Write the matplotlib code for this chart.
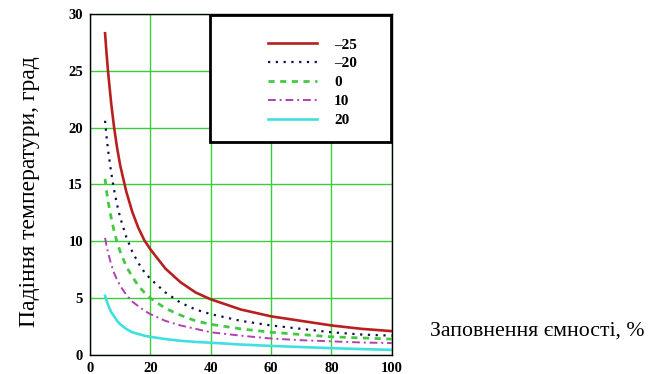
import matplotlib
matplotlib.use("Agg")
import matplotlib.pyplot as plt
from matplotlib.patches import Rectangle

# заповнення ємності, %
fill = [5, 5.5, 6, 7, 8, 9, 10, 12, 14, 16, 18, 20, 25, 30, 35, 40, 50, 60, 70, 80, 90, 100]

# падіння температури для різних температур, град
drop_m25 = [28.3, 26.5, 24.9, 22.2, 20.0, 18.2, 16.7, 14.4, 12.6, 11.2, 10.1, 9.3,
            7.6, 6.4, 5.5, 4.9, 4.0, 3.4, 3.0, 2.6, 2.3, 2.1]
drop_m20 = [20.6, 19.2, 18.0, 16.1, 14.5, 13.2, 12.1, 10.4, 9.1, 8.1, 7.3, 6.7,
            5.5, 4.6, 4.0, 3.6, 3.0, 2.6, 2.3, 2.0, 1.8, 1.7]
drop_0 = [15.5, 14.4, 13.5, 12.1, 10.9, 9.9, 9.1, 7.8, 6.9, 6.1, 5.5, 5.0,
          4.1, 3.5, 3.0, 2.7, 2.3, 2.0, 1.8, 1.6, 1.5, 1.4]
drop_10 = [10.3, 9.6, 9.0, 8.0, 7.2, 6.6, 6.1, 5.3, 4.7, 4.3, 3.9, 3.6,
           3.0, 2.6, 2.3, 2.0, 1.7, 1.45, 1.3, 1.2, 1.1, 1.05]
drop_20 = [5.2, 4.8, 4.4, 3.8, 3.4, 3.0, 2.7, 2.3, 2.0, 1.85, 1.7, 1.6,
           1.4, 1.25, 1.15, 1.08, 0.92, 0.8, 0.7, 0.6, 0.52, 0.45]

labels = ["–25", "–20", "0", "10", "20"]
x_ticks = [0, 20, 40, 60, 80, 100]
y_ticks = [0, 5, 10, 15, 20, 25, 30]

fig = plt.figure(figsize=(6.64, 3.74), dpi=100)
ax = fig.add_axes([0.1355, 0.0508, 0.4545, 0.912])

ax.plot(fill, drop_m25, color="#b82020", lw=1.9, ls="-", label=labels[0])
ax.plot(fill, drop_m20, color="#101050", lw=1.6, ls=(0, (1, 2.5)), label=labels[1])
ax.plot(fill, drop_0, color="#44c844", lw=2.0, ls=(0, (2.2, 2)), label=labels[2])
ax.plot(fill, drop_10, color="#b040b0", lw=1.4, ls=(0, (4, 2, 1, 2)), label=labels[3])
ax.plot(fill, drop_20, color="#40e0e0", lw=1.9, ls="-", label=labels[4])

ax.set_xlim(0, 100)
ax.set_ylim(0, 30)
ax.set_xticks(x_ticks)
ax.set_yticks(y_ticks)
ax.grid(True, color="#3ccc3c", lw=1.0)
ax.set_axisbelow(True)
ax.tick_params(length=0, pad=5)
for t in ax.get_xticklabels() + ax.get_yticklabels():
    t.set_fontfamily("Liberation Serif")
    t.set_fontweight("bold")
    t.set_fontsize(10.5)
for s in ax.spines.values():
    s.set_color("black")
    s.set_linewidth(1.0)

# рамка легенди
ax.add_patch(Rectangle((0.397, 0.625), 0.6, 0.372, transform=ax.transAxes,
                       facecolor="white", edgecolor="black", lw=2.0, zorder=3))
leg = ax.legend(loc="upper left", bbox_to_anchor=(0.545, 0.97), frameon=False,
                handlelength=3.2, handletextpad=1.1, labelspacing=0.34,
                prop={"family": "Liberation Serif", "weight": "bold", "size": 11})
leg.set_zorder(4)

fig.text(0.045, 0.487, "Падіння температури, град", rotation=90,
         ha="center", va="center", fontsize=17, family="Liberation Serif")
fig.text(0.648, 0.115, "Заповнення ємності, %", ha="left", va="center",
         fontsize=15.7, family="Liberation Serif")

fig.savefig("out.png", dpi=100)
